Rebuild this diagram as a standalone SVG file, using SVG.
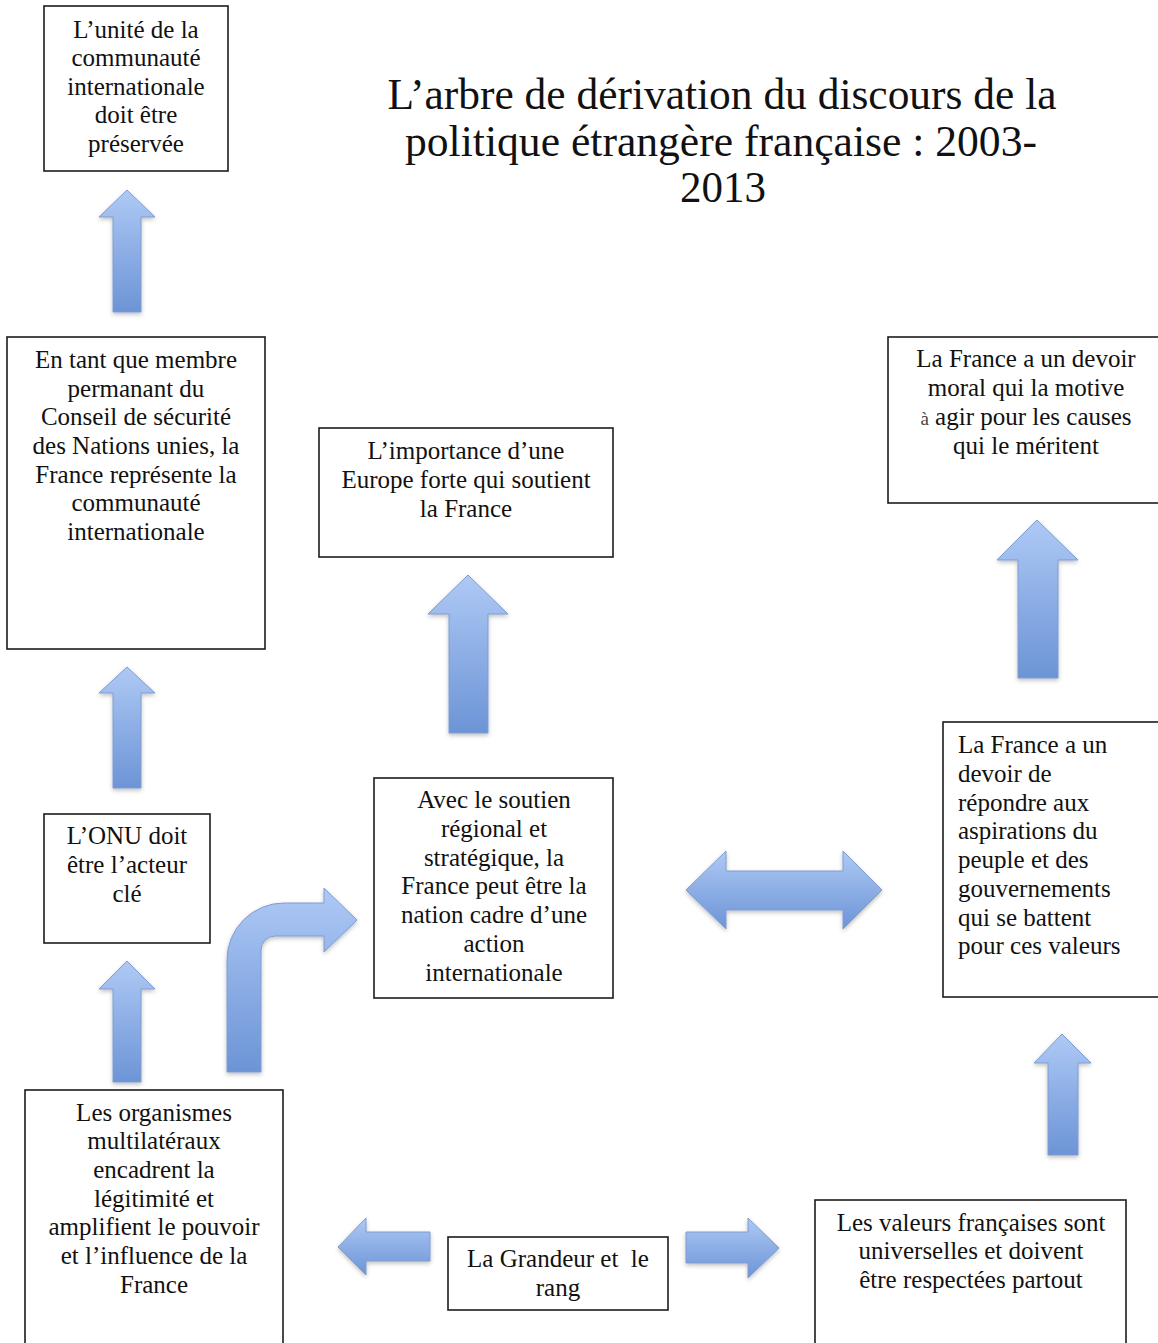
<svg xmlns="http://www.w3.org/2000/svg" width="1158" height="1343" viewBox="0 0 1158 1343">
<style>
.box{fill:#fff;stroke:#1c1c1c;stroke-width:1.6}
.t{font-family:"Liberation Serif","Times New Roman",serif;font-size:25px;fill:#111}
.c{text-anchor:middle}
.ttl{font-family:"Liberation Serif","Times New Roman",serif;font-size:45px;fill:#111;text-anchor:middle}
.arr{fill:url(#g);stroke:#7f9ccf;stroke-width:1;filter:url(#sh)}
.small{font-size:19px;fill:#444}
</style>
<defs>
<linearGradient id="g" x1="0" y1="0" x2="0" y2="1">
<stop offset="0" stop-color="#aec9f5"/>
<stop offset="1" stop-color="#6c94d6"/>
</linearGradient>
<filter id="sh" x="-20%" y="-20%" width="140%" height="140%">
<feDropShadow dx="0" dy="2" stdDeviation="2" flood-color="#000" flood-opacity="0.25"/>
</filter>
</defs>
<rect width="1158" height="1343" fill="#fff"/>

<g id="title">
<text class="ttl" x="722" y="109" textLength="669" lengthAdjust="spacingAndGlyphs">L’arbre de dérivation du discours de la</text>
<text class="ttl" x="721" y="156" textLength="632" lengthAdjust="spacingAndGlyphs">politique étrangère française : 2003-</text>
<text class="ttl" x="723" y="202" textLength="86" lengthAdjust="spacingAndGlyphs">2013</text>
</g>

<g id="connectors">
<path class="arr" d="M127,190 L155,217 L141,217 L141,312 L113,312 L113,217 L99,217 Z"/>
<path class="arr" d="M127,667 L155,693 L141,693 L141,788 L113,788 L113,693 L99,693 Z"/>
<path class="arr" d="M127,961 L155,989 L141,989 L141,1082 L113,1082 L113,989 L99,989 Z"/>
<path class="arr" d="M468,575 L508,614 L488,614 L488,733 L449,733 L449,614 L428,614 Z"/>
<path class="arr" d="M1037,520 L1078,560 L1058,560 L1058,678 L1018,678 L1018,560 L997,560 Z"/>
<path class="arr" d="M1062,1034 L1091,1063 L1078,1063 L1078,1155 L1048,1155 L1048,1063 L1034,1063 Z"/>
<path class="arr" d="M227,1072 L227,960 A57,57 0 0 1 284,903 L324,903 L324,888 L357,920 L324,952 L324,936 L275,936 A14,14 0 0 0 261,950 L261,1072 Z"/>
<path class="arr" d="M686,890 L726,851 L726,871 L843,871 L843,851 L882,890 L843,929 L843,910 L726,910 L726,929 Z"/>
<path class="arr" d="M338,1247 L366,1218 L366,1232 L430,1232 L430,1261 L366,1261 L366,1275 Z"/>
<path class="arr" d="M686,1232 L748,1232 L748,1218 L779,1248 L748,1278 L748,1263 L686,1263 Z"/>
</g>

<g id="n1">
<rect class="box" x="44" y="6" width="184" height="165"/>
<text class="t c" x="136" y="38">L’unité de la</text>
<text class="t c" x="136" y="66">communauté</text>
<text class="t c" x="136" y="95">internationale</text>
<text class="t c" x="136" y="123">doit être</text>
<text class="t c" x="136" y="152">préservée</text>
</g>

<g id="n2">
<rect class="box" x="7" y="337" width="258" height="312"/>
<text class="t c" x="136" y="368">En tant que membre</text>
<text class="t c" x="136" y="397">permanant du</text>
<text class="t c" x="136" y="425">Conseil de sécurité</text>
<text class="t c" x="136" y="454">des Nations unies, la</text>
<text class="t c" x="136" y="483">France représente la</text>
<text class="t c" x="136" y="511">communauté</text>
<text class="t c" x="136" y="540">internationale</text>
</g>

<g id="n3">
<rect class="box" x="44" y="814" width="166" height="129"/>
<text class="t c" x="127" y="844">L’ONU doit</text>
<text class="t c" x="127" y="873">être l’acteur</text>
<text class="t c" x="127" y="902">clé</text>
</g>

<g id="n4">
<rect class="box" x="25" y="1090" width="258" height="260"/>
<text class="t c" x="154" y="1121">Les organismes</text>
<text class="t c" x="154" y="1149">multilatéraux</text>
<text class="t c" x="154" y="1178">encadrent la</text>
<text class="t c" x="154" y="1207">légitimité et</text>
<text class="t c" x="154" y="1235">amplifient le pouvoir</text>
<text class="t c" x="154" y="1264">et l’influence de la</text>
<text class="t c" x="154" y="1293">France</text>
</g>

<g id="n5">
<rect class="box" x="374" y="778" width="239" height="220"/>
<text class="t c" x="494" y="808">Avec le soutien</text>
<text class="t c" x="494" y="837">régional et</text>
<text class="t c" x="494" y="866">stratégique, la</text>
<text class="t c" x="494" y="894">France peut être la</text>
<text class="t c" x="494" y="923">nation cadre d’une</text>
<text class="t c" x="494" y="952">action</text>
<text class="t c" x="494" y="981">internationale</text>
</g>

<g id="n6">
<rect class="box" x="319" y="428" width="294" height="129"/>
<text class="t c" x="466" y="459">L’importance d’une</text>
<text class="t c" x="466" y="488">Europe forte qui soutient</text>
<text class="t c" x="466" y="517">la France</text>
</g>

<g id="n7">
<rect class="box" x="943" y="722" width="220" height="275"/>
<text class="t" x="958" y="753">La France a un</text>
<text class="t" x="958" y="782">devoir de</text>
<text class="t" x="958" y="811">répondre aux</text>
<text class="t" x="958" y="839">aspirations du</text>
<text class="t" x="958" y="868">peuple et des</text>
<text class="t" x="958" y="897">gouvernements</text>
<text class="t" x="958" y="926">qui se battent</text>
<text class="t" x="958" y="954">pour ces valeurs</text>
</g>

<g id="n8">
<rect class="box" x="888" y="337" width="275" height="166"/>
<text class="t c" x="1026" y="367">La France a un devoir</text>
<text class="t c" x="1026" y="396">moral qui la motive</text>
<text class="t c" x="1026" y="425"><tspan class="small">à</tspan> agir pour les causes</text>
<text class="t c" x="1026" y="454">qui le méritent</text>
</g>

<g id="n9">
<rect class="box" x="815" y="1200" width="311" height="150"/>
<text class="t c" x="971" y="1231">Les valeurs françaises sont</text>
<text class="t c" x="971" y="1259">universelles et doivent</text>
<text class="t c" x="971" y="1288">être respectées partout</text>
</g>

<g id="n10">
<rect class="box" x="448" y="1237" width="220" height="73"/>
<text class="t c" x="558" y="1267" xml:space="preserve">La Grandeur et  le</text>
<text class="t c" x="558" y="1296">rang</text>
</g>
</svg>
